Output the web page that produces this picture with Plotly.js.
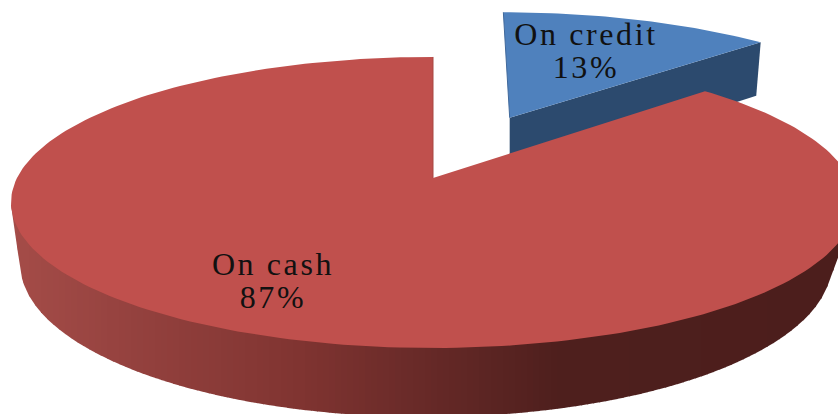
<!DOCTYPE html>
<html>
<head>
<meta charset="utf-8">
<script src="https://cdn.plot.ly/plotly-3.0.1.min.js"></script>
<style>
  html, body { margin: 0; padding: 0; background: #fff; }
  #chart { width: 838px; height: 414px; }
  .textpoint text { letter-spacing: 2.6px; }
</style>
</head>
<body>
<div id="chart"></div>
<script>
// Share of sales by payment type
const categories = ['On credit', 'On cash'];
const shares = [13, 87];
const topColors = ['#4f81bd', '#c0504d'];
const creditWallColor = '#2c4a6e';

// Pull-out of the credit slice, in pie radii
const creditPull = 0.5;

// Camera model: a tilted disc seen in perspective, in page pixels
const depthFactor = 0.168;
const topPlane = { cx: 433, cy: 178, rx: 416, ry: 141.4 };
const bottomPlane = { cx: 426, cy: 238.3, rx: 400, ry: 148.7 };
const creditShift = { top: 4, bottom: 19, apex: 0 };

// Wall shading along the screen x direction
const wallStops = [
  [0, [166, 77, 73]], [150, [146, 64, 61]], [300, [128, 52, 49]],
  [420, [104, 42, 40]], [560, [78, 31, 29]], [838, [76, 30, 28]]
];
const wallBandWidth = 6;

// Project a point of the unit disc (u right, v away from the viewer)
function project(plane, u, v, shift) {
  const d = 1 + depthFactor * v;
  return [plane.cx + (shift || 0) + plane.rx * u / d, plane.cy - plane.ry * v / d];
}

function wallColor(x) {
  for (let i = 1; i < wallStops.length; i++) {
    const a = wallStops[i - 1], b = wallStops[i];
    if (x <= b[0]) {
      const f = Math.max(0, (x - a[0]) / (b[0] - a[0]));
      const c = a[1].map((s, k) => Math.round(s + (b[1][k] - s) * f));
      return `rgb(${c.join(',')})`;
    }
  }
  return 'rgb(76,30,28)';
}

function polygon(points, color) {
  return {
    type: 'scatter', mode: 'lines', fill: 'toself', fillcolor: color,
    x: points.map(p => p[0]), y: points.map(p => p[1]),
    line: { color: color, width: 0 }, hoverinfo: 'skip', showlegend: false
  };
}

function edge(a, b, color, width) {
  return {
    type: 'scatter', mode: 'lines', x: [a[0], b[0]], y: [a[1], b[1]],
    line: { color: color, width: width }, hoverinfo: 'skip', showlegend: false
  };
}

const total = shares[0] + shares[1];
const split = shares[0] / total * 2 * Math.PI;
const mid = split / 2;
const pullU = creditPull * Math.sin(mid), pullV = creditPull * Math.cos(mid);

const traces = [];

// Credit slice: the cut wall facing the viewer, then its top face
const apexTop = project(topPlane, pullU, pullV, creditShift.apex);
const rimStartTop = project(topPlane, pullU, pullV + 1, creditShift.top);
const tipTop = project(topPlane, pullU + Math.sin(split), pullV + Math.cos(split), creditShift.top);
const apexBottom = [apexTop[0], project(bottomPlane, pullU, pullV)[1]];
const tipBottom = project(bottomPlane, pullU + Math.sin(split), pullV + Math.cos(split), creditShift.bottom);
traces.push(polygon([apexTop, tipTop, tipBottom, apexBottom, apexTop], creditWallColor));

const creditFace = [apexTop];
for (let i = 0; i <= 40; i++) {
  const a = split * i / 40;
  creditFace.push(project(topPlane, pullU + Math.sin(a), pullV + Math.cos(a), creditShift.top));
}
creditFace.push(apexTop);
traces.push(polygon(creditFace, topColors[0]));
traces.push(edge(rimStartTop, apexTop, '#41699b', 1));

// Lowest outline of the disc's rim at a given screen x
const rimSamples = [];
for (let i = 0; i <= 500; i++) {
  const a = 2 * Math.PI * i / 500;
  rimSamples.push([project(topPlane, Math.sin(a), Math.cos(a)), project(bottomPlane, Math.sin(a), Math.cos(a))]);
}
function rimLowerY(x) {
  let y = -Infinity;
  const cross = (p, q) => {
    const lo = Math.min(p[0], q[0]), hi = Math.max(p[0], q[0]);
    if (x >= lo && x <= hi) {
      const f = hi === lo ? 0 : (x - p[0]) / (q[0] - p[0]);
      y = Math.max(y, p[1] + (q[1] - p[1]) * f);
    }
  };
  rimSamples.forEach((s, i) => {
    cross(s[0], s[1]);
    if (i) cross(rimSamples[i - 1][1], s[1]);
  });
  return y;
}

// Cash slice: shaded rim as vertical strips, the top face covers their upper ends
const rimLeft = topPlane.cx - topPlane.rx / Math.sqrt(1 - depthFactor * depthFactor);
for (let x = rimLeft; x < 838; x += wallBandWidth) {
  const strip = [];
  const right = x + wallBandWidth + 0.6;
  strip.push([x, 205]);
  for (let px = x; px < right; px += 1) strip.push([px, rimLowerY(px)]);
  strip.push([right, rimLowerY(right)]);
  strip.push([right, 205]);
  strip.push([x, 205]);
  traces.push(polygon(strip.filter(p => isFinite(p[1])), wallColor(x + wallBandWidth / 2)));
}

// Cash slice: top face
const apex = project(topPlane, 0, 0);
const cashFace = [apex];
for (let i = 0; i <= 240; i++) {
  const a = split + (2 * Math.PI - split) * i / 240;
  cashFace.push(project(topPlane, Math.sin(a), Math.cos(a)));
}
cashFace.push(apex);
traces.push(polygon(cashFace, topColors[1]));
const rimEnd = project(topPlane, 0, 1);
traces.push(edge(rimEnd, apex, '#a84643', 1));

// Two-line slice labels
const labelSpots = [
  { x: 586, name: 37, pct: 70 },
  { x: 273, name: 266.5, pct: 299.5 }
];
categories.forEach((name, i) => {
  const s = labelSpots[i];
  traces.push({
    type: 'scatter', mode: 'text',
    x: [s.x, s.x], y: [s.name, s.pct],
    text: [name, shares[i] + '%'],
    textposition: 'middle center',
    textfont: { family: '"Liberation Serif", serif', size: 32, color: '#111' },
    hoverinfo: 'skip', showlegend: false
  });
});

const hiddenAxis = { visible: false, fixedrange: true };
const layout = {
  width: 838, height: 414,
  margin: { l: 0, r: 0, t: 0, b: 0 },
  paper_bgcolor: '#fff', plot_bgcolor: '#fff',
  showlegend: false, hovermode: false,
  xaxis: Object.assign({ range: [0, 838] }, hiddenAxis),
  yaxis: Object.assign({ range: [414, 0] }, hiddenAxis)
};

Plotly.newPlot('chart', traces, layout, { displayModeBar: false, staticPlot: true });
</script>
</body>
</html>
